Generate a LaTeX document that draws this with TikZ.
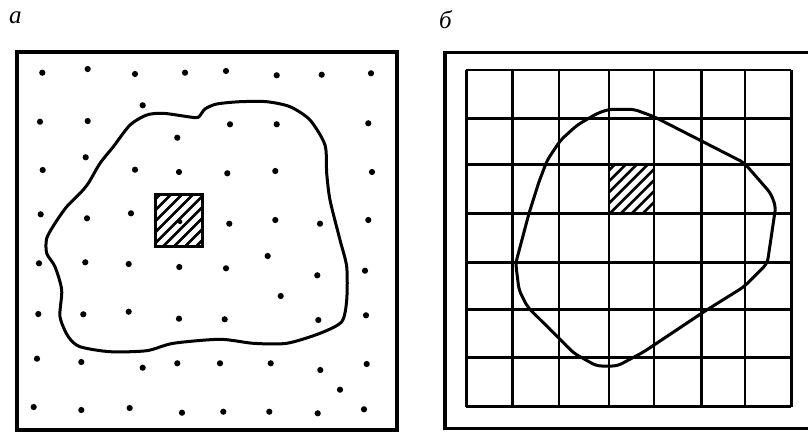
\documentclass[tikz,border=0pt]{standalone}
\usepackage{fontspec}
\setmainfont{Liberation Serif}

\begin{document}
\begin{tikzpicture}[
  x=1pt,y=-1pt,
  frame/.style={line width=3.2pt},
  contour/.style={line width=3pt,line join=round},
  gridline/.style={line width=2.8pt},
  hatch/.style={line width=2.7pt},
  dot/.style={fill=black},
  panel label/.style={font=\fontsize{25}{28}\selectfont\itshape,inner sep=0pt,anchor=base west}
]
  \useasboundingbox (0,0) rectangle (808,432);

  % labels
  \node[panel label] (la) at (9,23) {а};
  \node[panel label] (lb) at (439,28) {б};

  % panel a
  \draw[frame] (17,52) rectangle (397,430);
  \foreach \x/\y in {42.3/72.7,87.7/69,135/74,185/72.7,226/71,276.7/75.3,321.7/74.7,371/73.3,
    40/121.7,87.7/121,142.7/105.3,177.3/137.7,230/124.3,276.7/124.3,368.3/123.3,
    42.7/170,85.7/157.3,135/169.7,179/172,227.3/173.3,275.3/171,372/172,
    40.7/214.3,87/218.3,131/213.3,229.3/223.7,275.3/220,320/223.7,368.3/220,
    39/263.3,85.3/262.3,128.7/264,179.3/267,226/268.3,267.7/256,317.3/275.3,365/270.7,
    38.3/314,83.3/314.3,128.7/311.7,179/318.7,224.7/319.3,280.7/296,318.3/320,366/315.3,
    37/358.7,81.3/362,142.7/367.7,177.3/363.3,220/363.3,270.7/363.3,320.3/370,366.7/364,340/389.7,
    33.7/407,81.3/410,129.7/408,182/412.7,223.3/411.7,269.3/411.7,317.7/413.3,364/409.3}
    \fill[dot] (\x,\y) circle (3.1);
  \draw[contour] plot[smooth cycle,tension=0.45] coordinates {
    (198.3,117.3) (205,109) (216.7,104) (240,101.7) (266.7,101.7) (290,106.7) (310,120)
    (325,145) (326.7,173.3) (330,200) (340,240) (346.7,266.7) (346.7,300) (341.7,321.7)
    (320,333.3) (286.7,343.3) (253.3,343.3) (220,339.3) (173.3,343.3) (146.7,350.7)
    (110,351.7) (80,346.7) (68.3,336.7) (60,316.7) (61.7,290) (55,266.7) (46.7,253.3)
    (46.7,238.3) (55,223.3) (66.7,206.7) (80,193.3) (88.3,183.3) (100,163.3) (113.3,146.7)
    (130,125) (146.7,115) (163.3,113.3) (190,117)};
  \coordinate (sa1) at (155.7,194.3);
  \coordinate (sa2) at (202.7,246.7);
  \fill[white] (sa1) rectangle (sa2);
  \begin{scope}
    \clip (sa1) rectangle (sa2);
    \foreach \c in {-9,2,...,140}
      \draw[hatch] (105.7+\c,246.7) -- ++(80,-80);
  \end{scope}
  \fill[dot] (180,221.7) circle (2.4);
  \draw[frame] (sa1) rectangle (sa2);

  % panel b
  \draw[frame] (808,52.5) -- (445,52.5) -- (445,428.5) -- (808,428.5);
  \foreach \x in {466.3,512.3,559,609,654,701.7,745,791.3}
    \draw[gridline] (\x,70) -- (\x,406.7);
  \foreach \y in {70,118.3,164.3,213.3,262.3,309.3,357.3,406.7}
    \draw[gridline] (466.3,\y) -- (791.3,\y);
  \coordinate (sb1) at (609,164.3);
  \coordinate (sb2) at (654,213.3);
  \begin{scope}
    \clip (sb1) rectangle (sb2);
    \foreach \c in {-4,7,...,140}
      \draw[hatch] (559+\c,213.3) -- ++(80,-80);
  \end{scope}
  \draw[gridline] (sb1) rectangle (sb2);
  \draw[contour,rounded corners=5pt] (609,109.3) -- (634,109.3) -- (654,116.7) -- (744,162.7)
    -- (770.7,193.3) -- (775.7,206.7) -- (767.3,263.3) -- (744,286.7) -- (704,311.7)
    -- (644,351.7) -- (617.3,366) -- (596.7,366) -- (574,353.3) -- (527.3,306.7)
    -- (519,290) -- (515.7,263.3) -- (529,213.3) -- (539,181.7) -- (547.3,160)
    -- (560.7,140) -- (577.3,125) -- (597.3,113.3) -- cycle;
\end{tikzpicture}
\end{document}
